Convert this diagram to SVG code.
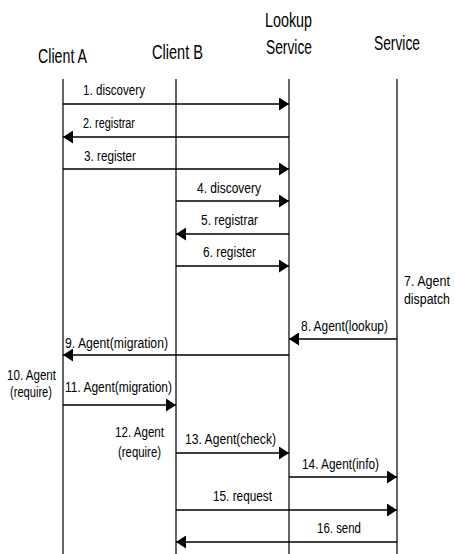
<svg xmlns="http://www.w3.org/2000/svg" width="455" height="554" viewBox="0 0 455 554">
<style>
  text { font-family: "Liberation Sans", Arial, sans-serif; fill: #000; }
  .hdr { font-size: 21px; }
  .lbl { font-size: 14px; }
  .life { stroke: #111; stroke-width: 1.3; fill: none; }
  .msg { stroke: #000; stroke-width: 1.3; fill: none; marker-end: url(#ah); }
</style>
<defs>
  <marker id="ah" markerUnits="userSpaceOnUse" markerWidth="11" markerHeight="13" refX="10" refY="6.5" orient="auto">
    <path d="M0,0 L10,6.5 L0,13 z" fill="#000"/>
  </marker>
</defs>
<rect width="455" height="554" fill="#fff"/>

<g id="client-a">
  <text class="hdr" x="38" y="63" textLength="49" lengthAdjust="spacingAndGlyphs">Client A</text>
  <line class="life" x1="63" y1="79" x2="63" y2="554"/>
</g>
<g id="client-b">
  <text class="hdr" x="152" y="59" textLength="51" lengthAdjust="spacingAndGlyphs">Client B</text>
  <line class="life" x1="176" y1="79" x2="176" y2="554"/>
</g>
<g id="lookup-service">
  <text class="hdr" x="265" y="27" textLength="47" lengthAdjust="spacingAndGlyphs">Lookup</text>
  <text class="hdr" x="266" y="54" textLength="46" lengthAdjust="spacingAndGlyphs">Service</text>
  <line class="life" x1="289" y1="79" x2="289" y2="554"/>
</g>
<g id="service">
  <text class="hdr" x="374" y="50" textLength="46" lengthAdjust="spacingAndGlyphs">Service</text>
  <line class="life" x1="397" y1="79" x2="397" y2="554"/>
</g>

<g id="notes">
  <text class="lbl" x="404" y="286" textLength="46" lengthAdjust="spacingAndGlyphs">7. Agent</text>
  <text class="lbl" x="404" y="304" textLength="46" lengthAdjust="spacingAndGlyphs">dispatch</text>
  <text class="lbl" x="7" y="380" textLength="49" lengthAdjust="spacingAndGlyphs">10. Agent</text>
  <text class="lbl" x="10" y="397" textLength="42" lengthAdjust="spacingAndGlyphs">(require)</text>
  <text class="lbl" x="115" y="437" textLength="49" lengthAdjust="spacingAndGlyphs">12. Agent</text>
  <text class="lbl" x="118" y="457" textLength="43" lengthAdjust="spacingAndGlyphs">(require)</text>
</g>

<g id="connectors">
  <line class="msg" x1="63" y1="104" x2="289" y2="104"/>
  <text class="lbl" x="83" y="95" textLength="62" lengthAdjust="spacingAndGlyphs">1. discovery</text>
  <line class="msg" x1="289" y1="137" x2="63" y2="137"/>
  <text class="lbl" x="83" y="128" textLength="52" lengthAdjust="spacingAndGlyphs">2. registrar</text>
  <line class="msg" x1="63" y1="169" x2="289" y2="169"/>
  <text class="lbl" x="84" y="161" textLength="52" lengthAdjust="spacingAndGlyphs">3. register</text>
  <line class="msg" x1="176" y1="201" x2="289" y2="201"/>
  <text class="lbl" x="197" y="193" textLength="64" lengthAdjust="spacingAndGlyphs">4. discovery</text>
  <line class="msg" x1="289" y1="234" x2="176" y2="234"/>
  <text class="lbl" x="201" y="225" textLength="57" lengthAdjust="spacingAndGlyphs">5. registrar</text>
  <line class="msg" x1="176" y1="266" x2="289" y2="266"/>
  <text class="lbl" x="203" y="257" textLength="53" lengthAdjust="spacingAndGlyphs">6. register</text>
  <line class="msg" x1="397" y1="339" x2="289" y2="339"/>
  <text class="lbl" x="301" y="331" textLength="87" lengthAdjust="spacingAndGlyphs">8. Agent(lookup)</text>
  <line class="msg" x1="289" y1="355" x2="63" y2="355"/>
  <text class="lbl" x="65" y="348" textLength="103" lengthAdjust="spacingAndGlyphs">9. Agent(migration)</text>
  <line class="msg" x1="63" y1="405" x2="176" y2="405"/>
  <text class="lbl" x="65" y="392" textLength="107" lengthAdjust="spacingAndGlyphs">11. Agent(migration)</text>
  <line class="msg" x1="176" y1="453" x2="289" y2="453"/>
  <text class="lbl" x="185" y="444" textLength="91" lengthAdjust="spacingAndGlyphs">13. Agent(check)</text>
  <line class="msg" x1="289" y1="477" x2="397" y2="477"/>
  <text class="lbl" x="302" y="469" textLength="77" lengthAdjust="spacingAndGlyphs">14. Agent(info)</text>
  <line class="msg" x1="176" y1="510" x2="397" y2="510"/>
  <text class="lbl" x="213" y="501" textLength="59" lengthAdjust="spacingAndGlyphs">15. request</text>
  <line class="msg" x1="397" y1="542" x2="176" y2="542"/>
  <text class="lbl" x="317" y="533" textLength="44" lengthAdjust="spacingAndGlyphs">16. send</text>
</g>
</svg>
